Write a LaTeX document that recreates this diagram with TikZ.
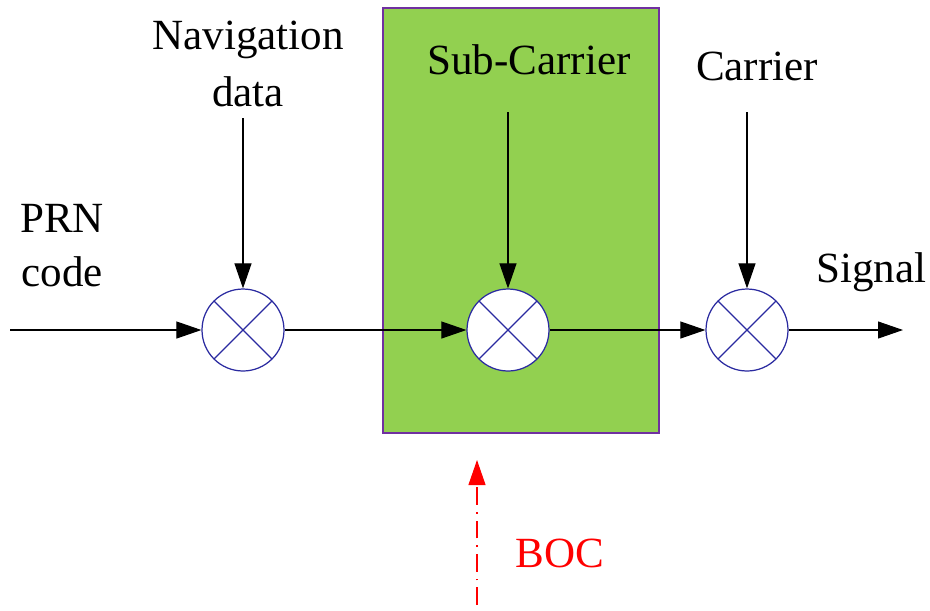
\documentclass[tikz,border=0pt]{standalone}
\usepackage{fontspec}
\setmainfont{Liberation Serif}
\usetikzlibrary{arrows.meta}
\definecolor{boxgreen}{HTML}{92D050}
\definecolor{boxpurple}{HTML}{7030A0}
\definecolor{mixblue}{HTML}{2A2AA0}
\tikzset{
  mixer/.style={circle,draw=mixblue,fill=white,line width=0.7pt,minimum size=1.64cm,inner sep=0pt,
    path picture={\draw[mixblue,line width=0.7pt] (path picture bounding box.south west)--(path picture bounding box.north east)
      (path picture bounding box.north west)--(path picture bounding box.south east);}},
  sig/.style={-{Triangle[length=0.5cm,width=0.34cm]},line width=0.6pt},
  lbl/.style={font=\fontsize{24.5}{28}\selectfont,inner sep=0pt,align=center},
}
\begin{document}
\begin{tikzpicture}[x=0.02cm,y=-0.02cm]
\useasboundingbox (0,0) rectangle (930,610);
\fill[boxgreen,draw=boxpurple,line width=1.2pt] (383,8) rectangle (659,433);
\node[mixer] (m1) at (243,330) {};
\node[mixer] (m2) at (508,330) {};
\node[mixer] (m3) at (747,330) {};
\coordinate (in) at (10,330);
\coordinate (out) at (903,330);
\coordinate (nav) at (243,118);
\coordinate (sub) at (508,112);
\coordinate (car) at (747,112);
\coordinate (bocs) at (477,605);
\coordinate (boct) at (477,460);
\draw[sig] (in) -- (m1);
\draw[sig] (m1) -- (m2);
\draw[sig] (m2) -- (m3);
\draw[sig] (m3) -- (out);
\draw[sig] (nav) -- (m1);
\draw[sig] (sub) -- (m2);
\draw[sig] (car) -- (m3);
\draw[red,line width=0.6pt,dash pattern=on 10pt off 4pt on 1pt off 4pt,-{Triangle[length=0.5cm,width=0.34cm]}] (bocs) -- (boct);
\node[lbl] (tnav) at (248,40) {Navigation};
\node[lbl] (tdata) at (248,92) {data};
\node[lbl] (tsub) at (529,60) {Sub-Carrier};
\node[lbl] (tcar) at (757,66) {Carrier};
\node[lbl] (tprn) at (62,218) {PRN};
\node[lbl] (tcode) at (62,272) {code};
\node[lbl,anchor=west] (tsig) at (816,272) {Signal};
\node[lbl,text=red] (tboc) at (560,553) {BOC};
\end{tikzpicture}
\end{document}
